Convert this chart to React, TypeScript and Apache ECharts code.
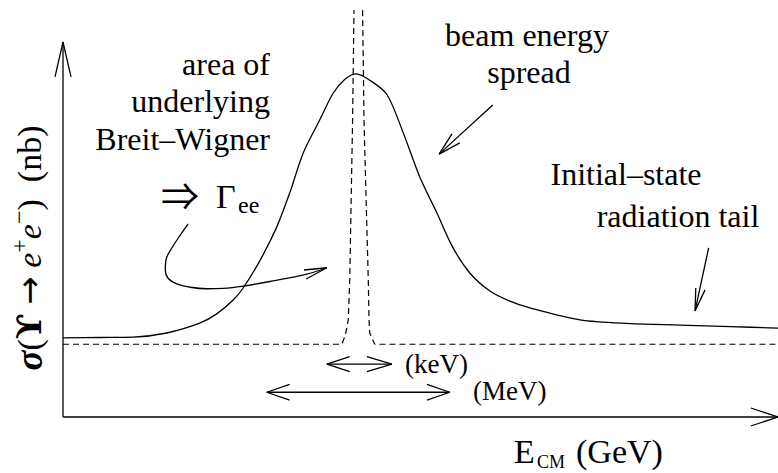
import React, { useEffect, useRef } from "react";
import * as echarts from "echarts";

// Measured (beam-spread convolved) cross section, solid curve
const observedCurve: number[][] = [
  [0, 2.11], [0.52, 2.12], [0.98, 2.13], [1.45, 2.24], [1.92, 2.51], [2.15, 2.75],
  [2.38, 3.12], [2.52, 3.44], [2.76, 4.19], [2.99, 5.07], [3.17, 5.97], [3.36, 7.04],
  [3.59, 7.92], [3.78, 8.64], [3.94, 9.00], [4.10, 9.15], [4.29, 8.98], [4.53, 8.60],
  [4.76, 7.57], [4.99, 6.40], [5.23, 5.44], [5.45, 4.53], [5.69, 3.84], [5.97, 3.36],
  [6.25, 3.09], [6.53, 2.91], [7.23, 2.59], [7.93, 2.49], [8.63, 2.45], [9.33, 2.41], [10, 2.37],
];

// Underlying Breit-Wigner (dashed), runs off the top of the plot
const breitWignerLeft: number[][] = [
  [0, 1.94], [3.90, 1.94], [3.95, 2.19], [3.99, 2.59], [4.01, 3.63], [4.05, 7.89], [4.07, 10.85],
];
const breitWignerRight: number[][] = [
  [4.19, 10.85], [4.21, 7.89], [4.27, 3.63], [4.28, 2.59], [4.29, 2.24], [4.36, 1.94], [10, 1.94],
];

// Axes with open arrowheads (data coordinates)
const xAxisLine: number[][] = [[0, 0], [10, 0]];
const yAxisLine: number[][] = [[0, 0], [0, 10]];
const xAxisHead: number[][] = [[9.62, 0.24], [10, 0], [9.62, -0.24]];
const yAxisHead: number[][] = [[-0.112, 9.07], [0, 10], [0.112, 9.07]];

// Annotation arrows (data coordinates)
const beamArrow: number[][] = [[6.01, 8.32], [5.26, 7.01]];
const beamHead: number[][] = [[5.44, 7.55], [5.26, 7.01], [5.55, 7.31]];
const tailArrow: number[][] = [[9.03, 4.51], [8.84, 2.83]];
const tailHead: number[][] = [[8.85, 3.44], [8.84, 2.83], [8.98, 3.39]];
const gammaArrow: number[][] = [
  [1.75, 5.15], [1.64, 4.85], [1.52, 4.50], [1.44, 4.19], [1.43, 3.92], [1.47, 3.70],
  [1.59, 3.55], [1.78, 3.46], [2.01, 3.42], [2.24, 3.43], [2.52, 3.49], [2.94, 3.63],
  [3.41, 3.81], [3.69, 3.98],
];
const gammaHead: number[][] = [[3.37, 3.92], [3.69, 3.98], [3.40, 3.68]];
const keVArrow: number[][] = [[3.69, 1.41], [4.60, 1.41]];
const keVHeadL: number[][] = [[4.01, 1.61], [3.69, 1.41], [4.01, 1.21]];
const keVHeadR: number[][] = [[4.25, 1.61], [4.60, 1.41], [4.25, 1.21]];
const MeVArrow: number[][] = [[2.85, 0.66], [5.41, 0.66]];
const MeVHeadL: number[][] = [[3.17, 0.87], [2.85, 0.66], [3.17, 0.45]];
const MeVHeadR: number[][] = [[5.09, 0.87], [5.41, 0.66], [5.09, 0.45]];

const FONT = "'Liberation Serif', 'Times New Roman', 'DejaVu Serif', serif";

function lineSeries(name: string, data: number[][], opts: any = {}) {
  return {
    name,
    type: "line",
    data,
    symbol: "none",
    silent: true,
    clip: false,
    lineStyle: { color: "#000", width: 1.3, ...(opts.lineStyle || {}) },
    smooth: opts.smooth ?? false,
    z: 3,
  };
}

function txt(text: string, x: number, y: number, size: number, align = "left", family = FONT) {
  return {
    type: "text",
    x,
    y,
    silent: true,
    style: {
      text,
      fill: "#000",
      fontSize: size,
      fontFamily: family,
      align,
      textAlign: align,
      verticalAlign: "middle",
      textVerticalAlign: "middle",
    },
  };
}

export default function App() {
  const ref = useRef<HTMLDivElement>(null);
  useEffect(() => {
    if (!ref.current) return;
    const chart = echarts.init(ref.current, null, { renderer: "svg" });
    const hiddenAxis = {
      type: "value",
      min: -0.5,
      max: 10,
      axisLine: { show: false },
      axisTick: { show: false },
      axisLabel: { show: false },
      splitLine: { show: false },
    };
    chart.setOption({
      animation: false,
      backgroundColor: "#fff",
      grid: { left: 27.25, right: 0, top: 42, bottom: 37.25 },
      xAxis: hiddenAxis,
      yAxis: hiddenAxis,
      series: [
        lineSeries("xAxisLine", xAxisLine),
        lineSeries("yAxisLine", yAxisLine),
        lineSeries("xAxisHead", xAxisHead),
        lineSeries("yAxisHead", yAxisHead),
        lineSeries("observed", observedCurve, { smooth: 0.3 }),
        lineSeries("breitWignerLeft", breitWignerLeft, { lineStyle: { type: [6, 4], width: 1.2 } }),
        lineSeries("breitWignerRight", breitWignerRight, { lineStyle: { type: [6, 4], width: 1.2 } }),
        lineSeries("beamArrow", beamArrow),
        lineSeries("beamHead", beamHead),
        lineSeries("tailArrow", tailArrow),
        lineSeries("tailHead", tailHead),
        lineSeries("gammaArrow", gammaArrow, { smooth: 0.4 }),
        lineSeries("gammaHead", gammaHead),
        lineSeries("keVArrow", keVArrow),
        lineSeries("keVHeadL", keVHeadL),
        lineSeries("keVHeadR", keVHeadR),
        lineSeries("MeVArrow", MeVArrow),
        lineSeries("MeVHeadL", MeVHeadL),
        lineSeries("MeVHeadR", MeVHeadR),
      ],
      graphic: [
        txt("area of", 270, 64, 32, "right"),
        txt("underlying", 270, 101, 32, "right"),
        txt("Breit\u2013Wigner", 270, 139, 32, "right"),
        txt("\u21D2", 180, 193, 38, "center", "'Noto Sans CJK JP', 'DejaVu Sans', sans-serif"),
        txt("\u0393", 216, 196, 34),
        txt("ee", 238, 205, 24),
        txt("beam energy", 527, 35, 32, "center"),
        txt("spread", 529, 72, 32, "center"),
        txt("Initial\u2013state", 626, 174, 32, "center"),
        txt("radiation tail", 678, 216, 32, "center"),
        txt("(keV)", 405, 364, 27),
        txt("(MeV)", 473, 391, 27),
        txt("E", 514, 451, 34),
        txt("CM", 537, 462, 18),
        txt("(GeV)", 576, 451, 34),
        {
          type: "text",
          x: 29,
          y: 248,
          rotation: Math.PI / 2,
          silent: true,
          style: {
            text: "{sg|\u03C3}{n|(}{up|\u03D2}{n| }{ar|\u2192}{n| }{e|e}{sup|+}{e|e}{sup|\u2212}{n|)  (nb)}",
            fill: "#000",
            fontFamily: FONT,
            fontSize: 34,
            align: "center",
            textAlign: "center",
            verticalAlign: "middle",
            textVerticalAlign: "middle",
            rich: {
              sg: { fontSize: 37, fontFamily: FONT, fontStyle: "italic", fontWeight: "bold", lineHeight: 44, fill: "#000" },
              n: { fontSize: 34, fontFamily: FONT, lineHeight: 44, fill: "#000" },
              up: { fontSize: 34, fontFamily: "'DejaVu Serif', serif", fontWeight: "bold", lineHeight: 44, fill: "#000" },
              ar: { fontSize: 34, fontFamily: "'DejaVu Sans', sans-serif", lineHeight: 44, fill: "#000" },
              e: { fontSize: 34, fontFamily: FONT, fontStyle: "italic", lineHeight: 44, fill: "#000" },
              sup: { fontSize: 24, fontFamily: FONT, verticalAlign: "top", lineHeight: 24, fill: "#000" },
            },
          },
        },
      ],
    });
    return () => chart.dispose();
  }, []);
  return <div ref={ref} style={{ width: 778, height: 473, position: "absolute", left: 0, top: 0 }} />;
}
